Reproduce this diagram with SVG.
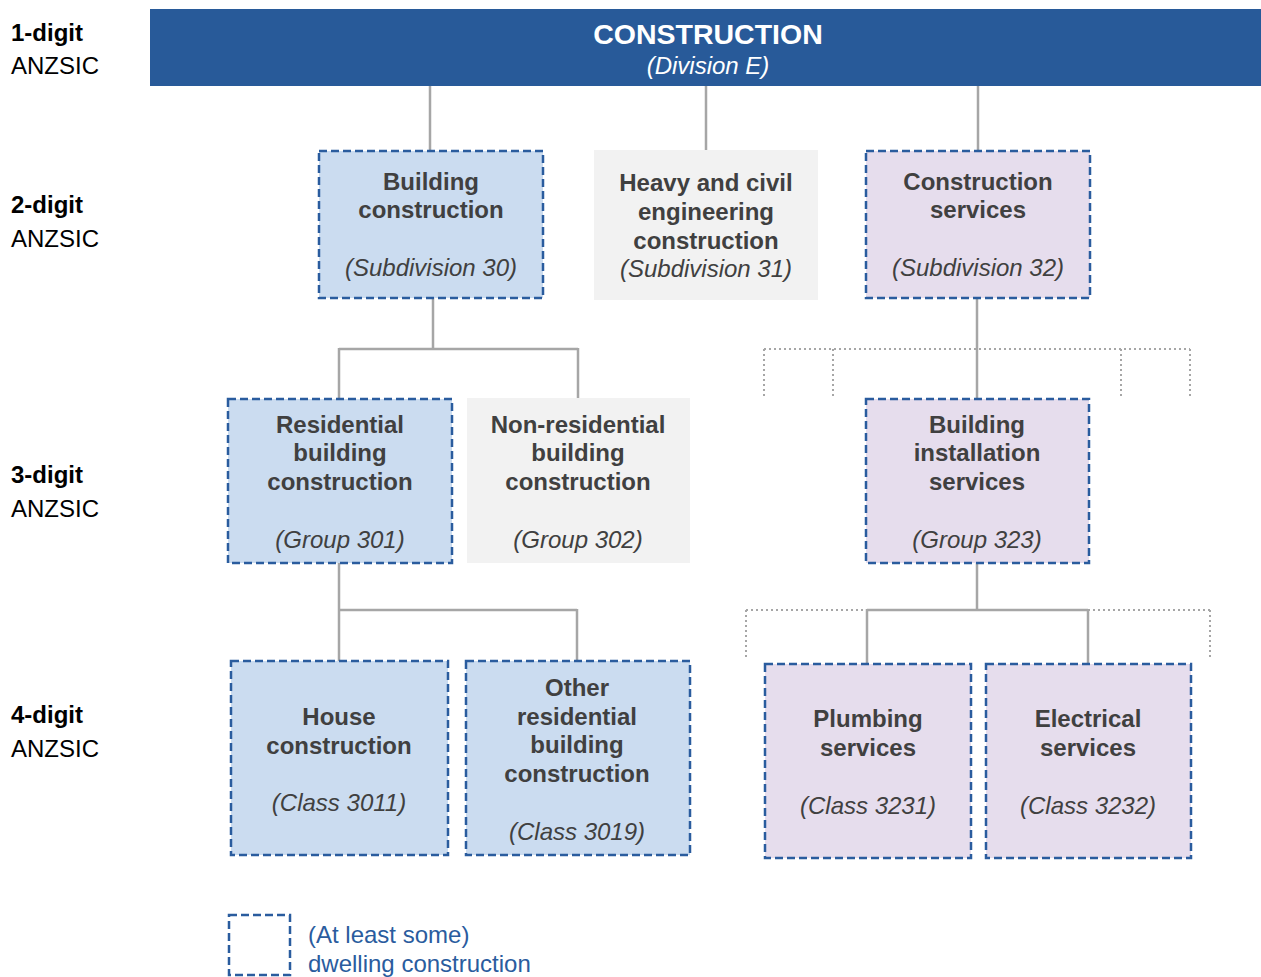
<svg xmlns="http://www.w3.org/2000/svg" width="1261" height="977" viewBox="0 0 1261 977">
<style>
text{font-family:"Liberation Sans",Arial,sans-serif;font-size:24px;text-anchor:middle;fill:#404040}
.b{font-weight:bold}
.i{font-style:italic}
.lvl{text-anchor:start;fill:#000}
.blue{fill:#CBDCF0;stroke:#2A5C9E;stroke-width:2.5;stroke-dasharray:8 4}
.purple{fill:#E6DDED;stroke:#2A5C9E;stroke-width:2.5;stroke-dasharray:8 4}
.gray{fill:#F2F2F2}
.conn{stroke:#A6A6A6;stroke-width:2.5;fill:none}
.dot{stroke:#A6A6A6;stroke-width:2;stroke-dasharray:2 3;fill:none}
.leg{text-anchor:start;fill:#2A5C9E}
</style>
<rect width="1261" height="977" fill="#fff"/>
<g id="levels">
<text class="lvl b" x="11" y="41">1-digit</text>
<text class="lvl" x="11" y="74">ANZSIC</text>
<text class="lvl b" x="11" y="213">2-digit</text>
<text class="lvl" x="11" y="247">ANZSIC</text>
<text class="lvl b" x="11" y="483">3-digit</text>
<text class="lvl" x="11" y="517">ANZSIC</text>
<text class="lvl b" x="11" y="723">4-digit</text>
<text class="lvl" x="11" y="757">ANZSIC</text>
</g>
<g id="connectors">
<path class="conn" d="M430 86V150M706 86V150M978 86V150"/>
<path class="conn" d="M433 298V349M339 349H578M339 348V398M578 348V398"/>
<path class="conn" d="M339 563V610M339 610H577M339 609V661M577 609V661"/>
<path class="conn" d="M977 298V398"/>
<path class="conn" d="M977 563V610M867 610H1088M867 609V664M1088 609V664"/>
<path class="dot" d="M764 349H1190M764 349V397M833 349V397M1121 349V397M1190 349V397"/>
<path class="dot" d="M746 610H867M1088 610H1210M746 610V659M1210 610V659"/>
</g>
<g id="construction">
<rect x="150" y="9" width="1111" height="77" fill="#285A99"/>
<text class="b" x="708" y="44" style="fill:#fff;font-size:28.5px">CONSTRUCTION</text>
<text class="i" x="708" y="74" style="fill:#fff">(Division E)</text>
</g>
<g id="building-construction">
<rect class="blue" x="319" y="151" width="224" height="147"/>
<text class="b" x="431" y="190">Building</text>
<text class="b" x="431" y="218">construction</text>
<text class="i" x="431" y="276">(Subdivision 30)</text>
</g>
<g id="heavy-civil">
<rect class="gray" x="594" y="150" width="224" height="150"/>
<text class="b" x="706" y="191">Heavy and civil</text>
<text class="b" x="706" y="220">engineering</text>
<text class="b" x="706" y="249">construction</text>
<text class="i" x="706" y="277">(Subdivision 31)</text>
</g>
<g id="construction-services">
<rect class="purple" x="866" y="151" width="224" height="147"/>
<text class="b" x="978" y="190">Construction</text>
<text class="b" x="978" y="218">services</text>
<text class="i" x="978" y="276">(Subdivision 32)</text>
</g>
<g id="residential">
<rect class="blue" x="228" y="399" width="224" height="164"/>
<text class="b" x="340" y="433">Residential</text>
<text class="b" x="340" y="461">building</text>
<text class="b" x="340" y="490">construction</text>
<text class="i" x="340" y="548">(Group 301)</text>
</g>
<g id="non-residential">
<rect class="gray" x="467" y="398" width="223" height="165"/>
<text class="b" x="578" y="433">Non-residential</text>
<text class="b" x="578" y="461">building</text>
<text class="b" x="578" y="490">construction</text>
<text class="i" x="578" y="548">(Group 302)</text>
</g>
<g id="building-installation">
<rect class="purple" x="866" y="399" width="223" height="164"/>
<text class="b" x="977" y="433">Building</text>
<text class="b" x="977" y="461">installation</text>
<text class="b" x="977" y="490">services</text>
<text class="i" x="977" y="548">(Group 323)</text>
</g>
<g id="house">
<rect class="blue" x="231" y="661" width="217" height="194"/>
<text class="b" x="339" y="725">House</text>
<text class="b" x="339" y="754">construction</text>
<text class="i" x="339" y="811">(Class 3011)</text>
</g>
<g id="other-residential">
<rect class="blue" x="466" y="661" width="224" height="194"/>
<text class="b" x="577" y="696">Other</text>
<text class="b" x="577" y="725">residential</text>
<text class="b" x="577" y="753">building</text>
<text class="b" x="577" y="782">construction</text>
<text class="i" x="577" y="840">(Class 3019)</text>
</g>
<g id="plumbing">
<rect class="purple" x="765" y="664" width="206" height="194"/>
<text class="b" x="868" y="727">Plumbing</text>
<text class="b" x="868" y="756">services</text>
<text class="i" x="868" y="814">(Class 3231)</text>
</g>
<g id="electrical">
<rect class="purple" x="986" y="664" width="205" height="194"/>
<text class="b" x="1088" y="727">Electrical</text>
<text class="b" x="1088" y="756">services</text>
<text class="i" x="1088" y="814">(Class 3232)</text>
</g>
<g id="legend">
<rect x="229" y="915" width="61" height="60" fill="none" stroke="#2A5C9E" stroke-width="2.5" stroke-dasharray="8 4"/>
<text class="leg" x="308" y="943">(At least some)</text>
<text class="leg" x="308" y="972">dwelling construction</text>
</g>
</svg>
